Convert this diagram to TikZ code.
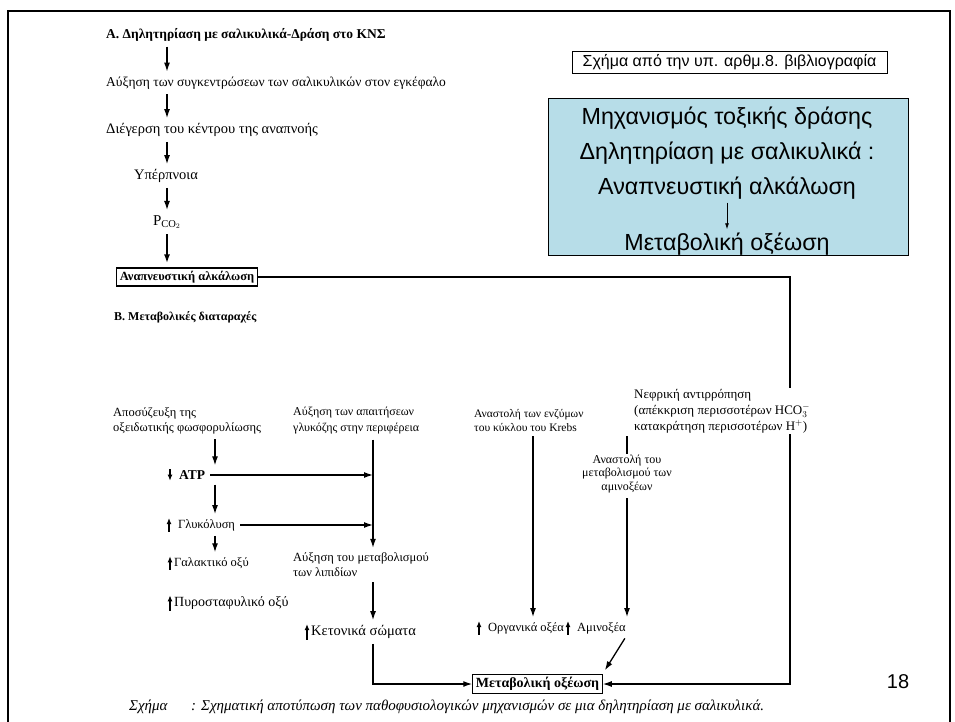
\documentclass[tikz,border=0pt]{standalone}
\usepackage{fontspec}
\setmainfont{Liberation Serif}
\newfontfamily\arialfont{Liberation Sans}
\usepackage{tikz}
\usetikzlibrary{arrows, arrows.meta, calc, positioning}
\definecolor{aqua}{RGB}{183,221,232}
\tikzstyle{scan} = [inner sep=1pt, align=left, font=\fontsize{12.5}{15}\selectfont]
\tikzstyle{scana} = [inner sep=1pt, align=left, font=\fontsize{13.5}{15}\selectfont]
\tikzstyle{scanb} = [inner sep=1pt, align=left, font=\bfseries\fontsize{13.5}{15}\selectfont]
\tikzstyle{scani} = [inner sep=1pt, align=left, font=\itshape\fontsize{15}{17}\selectfont]
\tikzstyle{framed} = [inner sep=3pt, draw=black, line width=1.2pt]
\tikzstyle{big} = [align=center, font=\arialfont\fontsize{23.3}{35}\selectfont]
\tikzstyle{arrow} = [line width=1.3pt,-{Latex[length=9pt,width=6pt]}]
\tikzstyle{line} = [line width=1.1pt]
\tikzstyle{updn} = [line width=1.1pt,-{Latex[length=6pt,width=5pt]}]
\tikzstyle{gapped} = [shorten <=4pt, shorten >=4pt]

\begin{document}
\begin{tikzpicture}[x=1pt, y=-1pt]
	\useasboundingbox (0,0) rectangle (955,722);
	\draw[line width=1.5pt] (8,730) -- (8,11) -- (950,11) -- (950,730);
	% A: central nervous system
	\node (KNS) [scanb, anchor=west] at (105,35) {Α. Δηλητηρίαση με σαλικυλικά-Δράση στο ΚΝΣ};
	\node (Conc) [scana, below=48pt of KNS.west, anchor=west] {Αύξηση των συγκεντρώσεων των σαλικυλικών στον εγκέφαλο};
	\node (Resp) [scana, font=\fontsize{14.5}{15}\selectfont, below=47pt of Conc.west, anchor=west] {Διέγερση του κέντρου της αναπνοής};
	\node (Hyper) [scana, font=\fontsize{14.5}{15}\selectfont, anchor=west] at (133,176) {Υπέρπνοια};
	\node (PCO) [scana, font=\fontsize{15}{15}\selectfont] at (167,222) {P$_{\mathrm{CO}_2}$};
	\node (Alk) [framed, font=\bfseries\fontsize{12.5}{15}\selectfont] at (187,277) {Αναπνευστική αλκάλωση};
	\coordinate (colA) at (167,0);
	\draw [arrow, gapped] (KNS.south -| colA) -- (Conc.north -| colA);
	\draw [arrow, gapped] (Conc.south -| colA) -- (Resp.north -| colA);
	\draw [arrow, gapped] (Resp.south -| colA) -- (Hyper.north -| colA);
	\draw [arrow, gapped] (Hyper.south -| colA) -- (PCO.north);
	\draw [arrow, gapped, line width=2pt] (PCO.south) -- (Alk.north -| colA);
	% source and summary boxes
	\node (Src) [draw, line width=0.8pt, font=\arialfont\fontsize{16}{18}\selectfont, minimum width=315pt, minimum height=20pt] at (729.5,62) {Σχήμα από την υπ. αρθμ.8. βιβλιογραφία};
	\node (Mech) [draw, fill=aqua, line width=0.8pt, minimum width=360pt, minimum height=157pt] at (728,176.5) {};
	\node (M1) [big] at (727,153) {Μηχανισμός τοξικής δράσης\\Δηλητηρίαση με σαλικυλικά :\\Αναπνευστική αλκάλωση};
	\node (M2) [big] at (727,244) {Μεταβολική οξέωση};
	\draw [line width=0.8pt, -{Latex[length=6pt,width=4pt]}] (M1.south) -- (M2.north);
	% B: metabolic disturbances
	\node (B) [scanb, font=\bfseries\fontsize{12}{14}\selectfont, anchor=west] at (113,317) {Β. Μεταβολικές διαταραχές};
	\node (Uncoup) [scan, anchor=west] at (112,421) {Αποσύζευξη της\\οξειδωτικής φωσφορυλίωσης};
	\node (Demand) [scan, font=\fontsize{12}{16}\selectfont, anchor=west] at (292,421) {Αύξηση των απαιτήσεων\\γλυκόζης στην περιφέρεια};
	\node (ATP) [scanb, anchor=west] at (178,475) {ATP};
	\node (Glyc) [scan, anchor=west] at (177,525) {Γλυκόλυση};
	\node (Lact) [scan, anchor=west] at (173,563) {Γαλακτικό οξύ};
	\node (Pyr) [scan, font=\fontsize{14}{15}\selectfont, anchor=west] at (173,603) {Πυροσταφυλικό οξύ};
	\node (Lip) [scan, anchor=west] at (292,565) {Αύξηση του μεταβολισμού\\των λιπιδίων};
	\node (Ket) [scan, font=\fontsize{14.5}{15}\selectfont, anchor=west] at (310,632) {Κετονικά σώματα};
	\node (MetOx) [framed, font=\bfseries\fontsize{14}{15}\selectfont] at (537.5,684) {Μεταβολική οξέωση};
	\node (Krebs) [scan, font=\fontsize{11.5}{14}\selectfont, anchor=west] at (473,420) {Αναστολή των ενζύμων\\του κύκλου του Krebs};
	\node (Nefr) [scan, font=\fontsize{13}{16}\selectfont, anchor=west] at (633,411) {Νεφρική αντιρρόπηση\\(απέκκριση περισσοτέρων HCO$_3^-$\\κατακράτηση περισσοτέρων H$^+$)};
	\node (AnAm) [scan, font=\fontsize{12}{13.5}\selectfont, align=center] at (627,474) {Αναστολή του\\μεταβολισμού των\\αμινοξέων};
	\node (Org) [scan, anchor=west] at (487,628) {Οργανικά οξέα};
	\node (Amino) [scan, anchor=west] at (576,628) {Αμινοξέα};
	\coordinate (colB) at (215,0);
	\coordinate (colL) at (373,0);
	\coordinate (colK) at (533,0);
	\coordinate (rt) at (790,0);
	\draw [updn] ([xshift=-8pt]ATP.north west) -- ([xshift=-8pt]ATP.south west);
	\draw [updn] ([xshift=-8pt]Glyc.south west) -- ([xshift=-8pt]Glyc.north west);
	\draw [updn] ([xshift=-3pt]Lact.south west) -- ([xshift=-3pt]Lact.north west);
	\draw [updn] ([xshift=-3pt]Pyr.south west) -- ([xshift=-3pt]Pyr.north west);
	\draw [updn] ([xshift=-3pt]Ket.south west) -- ([xshift=-3pt]Ket.north west);
	\draw [updn] ([xshift=-8pt]Org.south west) -- ([xshift=-8pt]Org.north west);
	\draw [updn] ([xshift=-8pt]Amino.south west) -- ([xshift=-8pt]Amino.north west);
	\draw [arrow, gapped] (Uncoup.south -| colB) -- (ATP.north -| colB);
	\draw [arrow, gapped] (ATP.south -| colB) -- (Glyc.north -| colB);
	\draw [arrow, gapped] (Glyc.south -| colB) -- (Lact.north -| colB);
	\draw [arrow, shorten <=4pt] (ATP.east) -- (ATP.east -| colL);
	\draw [arrow, shorten <=4pt] (Glyc.east) -- (Glyc.east -| colL);
	\draw [arrow, gapped] (Demand.south -| colL) -- (Lip.north -| colL);
	\draw [arrow, gapped] (Lip.south -| colL) -- (Ket.north -| colL);
	\draw [arrow, shorten <=4pt] (Ket.south -| colL) |- (MetOx.west);
	\draw [arrow, gapped] (Krebs.south -| colK) -- (Org.north -| colK);
	\draw [line, shorten <=2pt] (Nefr.south -| AnAm.north) -- (AnAm.north);
	\draw [arrow, gapped] (AnAm.south) -- (Amino.north -| AnAm.south);
	\draw [arrow, gapped] (Amino.south -| AnAm.south) -- (MetOx.north east);
	\draw [line] (Alk.east) -| (Nefr.north -| rt);
	\draw [arrow] (Nefr.south -| rt) |- (MetOx.east);
	% caption and page number
	\node (CapL) [scani, anchor=west] at (128,707) {Σχήμα};
	\node (Cap) [scani, anchor=west] at (190,707) {: Σχηματική αποτύπωση των παθοφυσιολογικών μηχανισμών σε μια δηλητηρίαση με σαλικυλικά.};
	\node (Pg) [font=\arialfont\fontsize{20}{24}\selectfont] at (898,682) {18};
\end{tikzpicture}
\end{document}
